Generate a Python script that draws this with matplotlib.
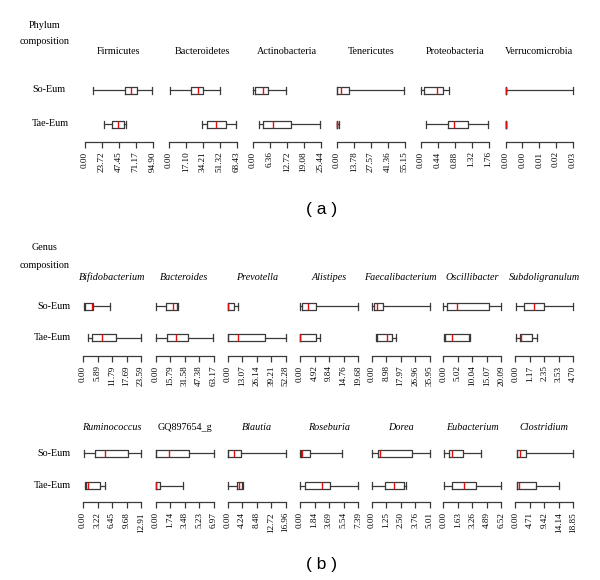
import matplotlib
matplotlib.use("Agg")
import matplotlib.pyplot as plt

# ---------------- data ----------------
groups = ["So-Eum", "Tae-Eum"]

phylum_names = ["Firmicutes", "Bacteroidetes", "Actinobacteria", "Tenericutes",
                "Proteobacteria", "Verrucomicrobia"]
phylum_max = [94.90, 68.43, 25.44, 55.15, 1.76, 0.03]
phylum_ticklabels = [
    ["0.00", "23.72", "47.45", "71.17", "94.90"],
    ["0.00", "17.10", "34.21", "51.32", "68.43"],
    ["0.00", "6.36", "12.72", "19.08", "25.44"],
    ["0.00", "13.78", "27.57", "41.36", "55.15"],
    ["0.00", "0.44", "0.88", "1.32", "1.76"],
    ["0.00", "0.00", "0.01", "0.02", "0.03"],
]
# [whisker low, Q1, median, Q3, whisker high]
phylum_so = [
    [11.6, 55.6, 64.1, 72.5, 94.3],
    [1.0, 21.9, 29.6, 34.0, 51.6],
    [0.1, 0.75, 3.9, 5.75, 12.4],
    [0.0, 0.0, 3.6, 9.5, 54.6],
    [0.0, 0.086, 0.41, 0.58, 0.72],
    [0.0, 0.0, 0.0, 0.0, 0.03],
]
phylum_tae = [
    [27.1, 37.4, 46.7, 54.7, 57.5],
    [33.7, 38.1, 47.2, 57.3, 67.7],
    [2.4, 3.6, 7.6, 14.5, 25.2],
    [0.0, 0.0, 0.0, 0.3, 2.0],
    [0.13, 0.71, 0.86, 1.22, 1.75],
    [0.0, 0.0, 0.0, 0.0, 0.0],
]

genus1_names = ["Bifidobacterium", "Bacteroides", "Prevotella", "Alistipes",
                "Faecalibacterium", "Oscillibacter", "Subdoligranulum"]
genus1_max = [23.59, 63.17, 52.28, 19.68, 35.95, 20.09, 4.70]
genus1_ticklabels = [
    ["0.00", "5.89", "11.79", "17.69", "23.59"],
    ["0.00", "15.79", "31.58", "47.38", "63.17"],
    ["0.00", "13.07", "26.14", "39.21", "52.28"],
    ["0.00", "4.92", "9.84", "14.76", "19.68"],
    ["0.00", "8.98", "17.97", "26.96", "35.95"],
    ["0.00", "5.02", "10.04", "15.07", "20.09"],
    ["0.00", "1.17", "2.35", "3.53", "4.70"],
]
genus1_so = [
    [0.4, 0.8, 3.5, 4.2, 10.9],
    [0.3, 10.9, 19.5, 23.5, 24.6],
    [0.0, 0.0, 0.3, 5.7, 9.6],
    [0.0, 0.8, 2.6, 5.5, 19.6],
    [0.2, 1.4, 3.5, 7.2, 35.9],
    [0.0, 1.4, 4.7, 16.0, 20.09],
    [0.03, 0.73, 1.54, 2.35, 4.70],
]
genus1_tae = [
    [2.15, 3.5, 7.8, 13.35, 23.5],
    [0.3, 12.0, 21.8, 35.6, 62.8],
    [0.0, 0.0, 9.6, 33.6, 52.2],
    [0.0, 0.0, 0.05, 5.5, 6.8],
    [2.7, 3.5, 9.5, 12.7, 15.0],
    [0.2, 0.6, 3.1, 8.95, 9.4],
    [0.03, 0.38, 0.44, 1.33, 1.78],
]

genus2_names = ["Ruminococcus", "GQ897654_g", "Blautia", "Roseburia", "Dorea",
                "Eubacterium", "Clostridium"]
genus2_italic = [True, False, True, True, True, True, True]
genus2_max = [12.91, 6.97, 16.96, 7.39, 5.01, 6.52, 18.85]
genus2_ticklabels = [
    ["0.00", "3.22", "6.45", "9.68", "12.91"],
    ["0.00", "1.74", "3.48", "5.23", "6.97"],
    ["0.00", "4.24", "8.48", "12.72", "16.96"],
    ["0.00", "1.84", "3.69", "5.54", "7.39"],
    ["0.00", "1.25", "2.50", "3.76", "5.01"],
    ["0.00", "1.63", "3.26", "4.89", "6.52"],
    ["0.00", "4.71", "9.42", "14.14", "18.85"],
]
genus2_so = [
    [0.22, 2.59, 4.95, 9.95, 12.91],
    [0.0, 0.12, 1.61, 4.03, 6.97],
    [0.0, 0.2, 1.93, 3.9, 16.96],
    [0.0, 0.13, 0.3, 1.29, 5.37],
    [0.0, 0.52, 0.73, 3.5, 5.01],
    [0.08, 0.64, 0.95, 2.26, 4.23],
    [0.4, 0.45, 1.53, 3.38, 18.85],
]
genus2_tae = [
    [0.38, 0.6, 1.1, 3.7, 4.8],
    [0.0, 0.0, 0.1, 0.52, 3.27],
    [0.0, 2.63, 3.4, 4.27, 4.4],
    [0.0, 0.64, 2.8, 3.78, 7.39],
    [0.0, 1.16, 1.95, 2.76, 2.97],
    [0.08, 1.02, 2.37, 3.66, 6.52],
    [0.4, 0.5, 1.2, 6.63, 14.3],
]

# ---------------- drawing ----------------
W, H = 600, 580
fig = plt.figure(figsize=(6, 5.8), dpi=100)
SERIF = ["Liberation Serif", "DejaVu Serif"]
EDGE = "#3a3a3a"
RED = "#e01010"


def stats_of(v):
    return dict(whislo=v[0], q1=v[1], med=v[2], q3=v[3], whishi=v[4], fliers=[])


def panel(x0, w, so_y, tae_y, axis_y, vmax, ticklabels, so, tae):
    top = so_y - 14
    ppu = tae_y - so_y
    ax = fig.add_axes([x0 / W, 1 - axis_y / H, w / W, (axis_y - top) / H])
    ylo = 1 - (axis_y - tae_y) / ppu
    yhi = 2 + (so_y - top) / ppu
    ax.set_ylim(ylo, yhi)
    ax.set_xlim(0, vmax)
    bw = 7.0 / ppu
    art = ax.bxp([stats_of(tae), stats_of(so)], positions=[1, 2],
                 orientation="horizontal", widths=bw, capwidths=bw,
                 showfliers=False, patch_artist=False,
                 boxprops=dict(color=EDGE, linewidth=0.9),
                 whiskerprops=dict(color=EDGE, linewidth=0.9),
                 capprops=dict(color=EDGE, linewidth=0.9),
                 medianprops=dict(color=RED, linewidth=1.0))
    for k in art:
        for a in art[k]:
            a.set_clip_on(False)
    for s in ["top", "right", "left"]:
        ax.spines[s].set_visible(False)
    ax.spines["bottom"].set_color(EDGE)
    ax.spines["bottom"].set_linewidth(0.9)
    ax.set_yticks([])
    ticks = [vmax * i / 4 for i in range(5)]
    ax.set_xticks(ticks)
    ax.set_xticklabels(ticklabels, rotation=90, family=SERIF, fontsize=6.6)
    ax.tick_params(axis="x", length=4, width=0.9, color=EDGE, pad=3)
    ax.patch.set_alpha(0)
    return ax


def ftext(x, y, s, **kw):
    fig.text(x / W, 1 - y / H, s, **kw)


# ---- (a) phylum ----
ph_x = [85, 169, 253, 337, 421, 505.5]
ph_w = 67.5
for i, name in enumerate(phylum_names):
    panel(ph_x[i], ph_w, 90, 124, 141.7, phylum_max[i], phylum_ticklabels[i],
          phylum_so[i], phylum_tae[i])
    ftext(ph_x[i] + ph_w / 2, 52, name, ha="center", va="center",
          family=SERIF, fontsize=7.3)
ftext(45, 25.5, "Phylum", ha="center", va="center", family=SERIF, fontsize=7.3)
ftext(45, 42, "composition", ha="center", va="center", family=SERIF, fontsize=7.3)
ftext(49, 90, groups[0], ha="center", va="center", family=SERIF, fontsize=7.3)
ftext(50, 124, groups[1], ha="center", va="center", family=SERIF, fontsize=7.3)
ftext(322, 210, "( a )", ha="center", va="center", family="Liberation Sans",
      fontsize=12.5)

# ---- (b) genus ----
ge_x = [83, 155.5, 227.7, 300, 371.7, 443.3, 515.3]
ge_w = 58
for i, name in enumerate(genus1_names):
    panel(ge_x[i], ge_w, 306, 337.7, 355.7, genus1_max[i], genus1_ticklabels[i],
          genus1_so[i], genus1_tae[i])
    ftext(ge_x[i] + ge_w / 2, 277, name, ha="center", va="center",
          family=SERIF, fontsize=7.3, style="italic")
ftext(45, 248, "Genus", ha="center", va="center", family=SERIF, fontsize=7.3)
ftext(45, 266, "composition", ha="center", va="center", family=SERIF, fontsize=7.3)
ftext(71, 306, groups[0], ha="right", va="center", family=SERIF, fontsize=7.3)
ftext(71, 337.7, groups[1], ha="right", va="center", family=SERIF, fontsize=7.3)

for i, name in enumerate(genus2_names):
    panel(ge_x[i], ge_w, 453.3, 485.7, 502.3, genus2_max[i], genus2_ticklabels[i],
          genus2_so[i], genus2_tae[i])
    ftext(ge_x[i] + ge_w / 2, 427, name, ha="center", va="center",
          family=SERIF, fontsize=7.3,
          style="italic" if genus2_italic[i] else "normal")
ftext(71, 453.3, groups[0], ha="right", va="center", family=SERIF, fontsize=7.3)
ftext(71, 485.7, groups[1], ha="right", va="center", family=SERIF, fontsize=7.3)
ftext(322, 564, "( b )", ha="center", va="center", family="Liberation Sans",
      fontsize=12.5)

fig.savefig("out.png", dpi=100, facecolor="white")
